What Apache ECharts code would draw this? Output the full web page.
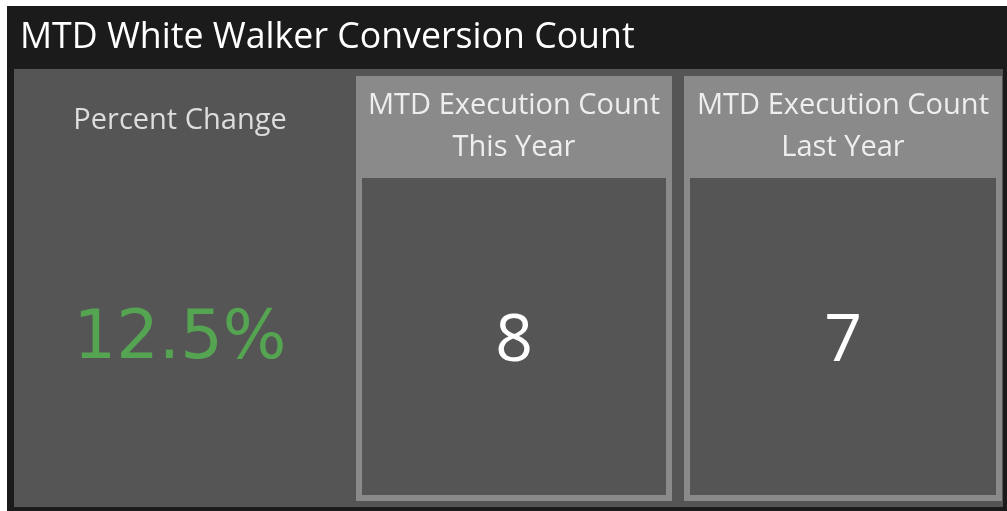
<!DOCTYPE html>
<html>
<head>
<meta charset="utf-8">
<script src="https://cdn.jsdelivr.net/npm/echarts@6/dist/echarts.min.js"></script>
<style>
  html, body { margin: 0; padding: 0; background: #fff; }
  #main { width: 1007px; height: 511px; }
</style>
</head>
<body>
<div id="main"></div>
<script>
// values
var dashTitle = 'MTD White Walker Conversion Count';
var kpiLabels = ['MTD Execution Count\nThis Year', 'MTD Execution Count\nLast Year'];
var kpiValues = [8, 7];
var pctLabel = 'Percent Change';
var pctValue = [12.5];

var chart = echarts.init(document.getElementById('main'));

var font = '"Open Sans", "Noto Sans", sans-serif';

// two kpi boxes: outer light frame, inner dark body
var boxes = [
  { x: 356, w: 316 },
  { x: 684, w: 318 }
];

var elements = [
  { type: 'rect', shape: { x: 7, y: 6, width: 1000, height: 505 }, style: { fill: '#1b1b1b' } },
  { type: 'rect', shape: { x: 14, y: 69, width: 989, height: 438 }, style: { fill: '#555555' } },
  {
    type: 'text', x: 20, y: 38,
    style: { text: dashTitle, fill: '#ffffff', font: '35.7px ' + font, textVerticalAlign: 'middle' }
  },
  {
    type: 'text', x: 180, y: 121,
    style: { text: pctLabel, fill: '#dddddd', font: '29px ' + font, textAlign: 'center', textVerticalAlign: 'middle' }
  },
  {
    type: 'text', x: 180, y: 341,
    style: { text: pctValue[0].toFixed(1) + '%', fill: '#55a452', font: '67px "DejaVu Sans", Verdana, sans-serif', textAlign: 'center', textVerticalAlign: 'middle' }
  }
];

boxes.forEach(function (b, i) {
  elements.push({ type: 'rect', shape: { x: b.x, y: 76, width: b.w, height: 425 }, style: { fill: '#8a8a8a' } });
  elements.push({ type: 'rect', shape: { x: b.x + 6, y: 178, width: b.w - 12, height: 317 }, style: { fill: '#555555' } });
  elements.push({
    type: 'text', x: b.x + b.w / 2, y: 127,
    style: { text: kpiLabels[i], fill: '#eeeeee', font: '29px ' + font, lineHeight: 42, textAlign: 'center', textVerticalAlign: 'middle' }
  });
  elements.push({
    type: 'text', x: b.x + b.w / 2, y: 342,
    style: { text: String(kpiValues[i]), fill: '#ffffff', font: '66px ' + font, textAlign: 'center', textVerticalAlign: 'middle' }
  });
});

chart.setOption({
  backgroundColor: '#ffffff',
  animation: false,
  graphic: elements
});
</script>
</body>
</html>
